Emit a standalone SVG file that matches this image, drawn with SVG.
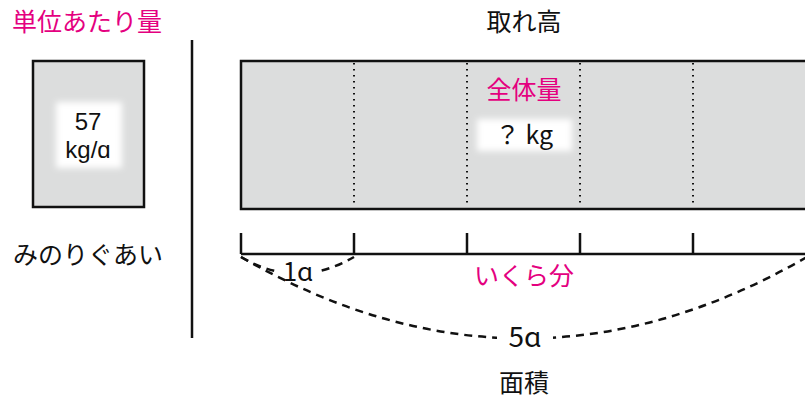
<svg xmlns="http://www.w3.org/2000/svg" width="805" height="401" viewBox="0 0 805 401">
<defs>
<filter id="soft" x="-20%" y="-20%" width="140%" height="140%"><feGaussianBlur stdDeviation="3"/></filter>
<style>
text{font-family:"Noto Sans CJK JP","Noto Sans",sans-serif;font-size:25px;fill:#111;text-anchor:middle}
.lat{font-family:"Liberation Sans","DejaVu Sans",sans-serif;font-size:24px}
.pk{fill:#e4007f}
.box{fill:#dcdddd;stroke:#111;stroke-width:2.5}
.dot{stroke:#111;stroke-width:2;stroke-dasharray:1.5 4.5;fill:none}
.ln{stroke:#111;stroke-width:2.5;fill:none}
.dash{stroke:#111;stroke-width:2.5;stroke-dasharray:8 6;fill:none}
</style>
</defs>
<rect width="805" height="401" fill="#fff"/>
<g id="unit">
<text x="87" y="31" class="pk">単位あたり量</text>
<rect class="box" x="33" y="61" width="111" height="146"/>
<rect x="56" y="102" width="66" height="66" fill="#fff" filter="url(#soft)"/>
<text x="88" y="130" class="lat">57</text>
<text x="88" y="158" class="lat">kg/ɑ</text>
<text x="88" y="264">みのりぐあい</text>
</g>
<g id="divider"><line class="ln" x1="192" y1="40" x2="192" y2="338"/></g>
<g id="total">
<text x="524" y="31">取れ高</text>
<rect class="box" x="241" y="61" width="580" height="148"/>
<line class="dot" x1="354" y1="63" x2="354" y2="207"/>
<line class="dot" x1="467" y1="63" x2="467" y2="207"/>
<line class="dot" x1="580" y1="63" x2="580" y2="207"/>
<line class="dot" x1="693" y1="63" x2="693" y2="207"/>
<text x="524" y="99" class="pk">全体量</text>
<rect x="477" y="119" width="95" height="32" fill="#fff" filter="url(#soft)"/>
<text x="524" y="144">？ kg</text>
</g>
<g id="axis">
<line class="ln" x1="241" y1="254" x2="805" y2="254"/>
<line class="ln" x1="241" y1="233" x2="241" y2="254"/>
<line class="ln" x1="354" y1="233" x2="354" y2="254"/>
<line class="ln" x1="467" y1="233" x2="467" y2="254"/>
<line class="ln" x1="580" y1="233" x2="580" y2="254"/>
<line class="ln" x1="693" y1="233" x2="693" y2="254"/>
<text x="524" y="285" class="pk">いくら分</text>
</g>
<g id="connectors">
<path class="dash" d="M241,257 Q297,290 354,257"/>
<rect x="279" y="257" width="38" height="26" fill="#fff"/>
<text x="298" y="281" style="font-size:26px">1ɑ</text>
<path class="dash" d="M241,257 Q524,420 807,257"/>
<rect x="497" y="322" width="56" height="30" fill="#fff"/>
<text x="525" y="347" style="font-size:28px">5ɑ</text>
</g>
<g id="area"><text x="524" y="392">面積</text></g>
</svg>
